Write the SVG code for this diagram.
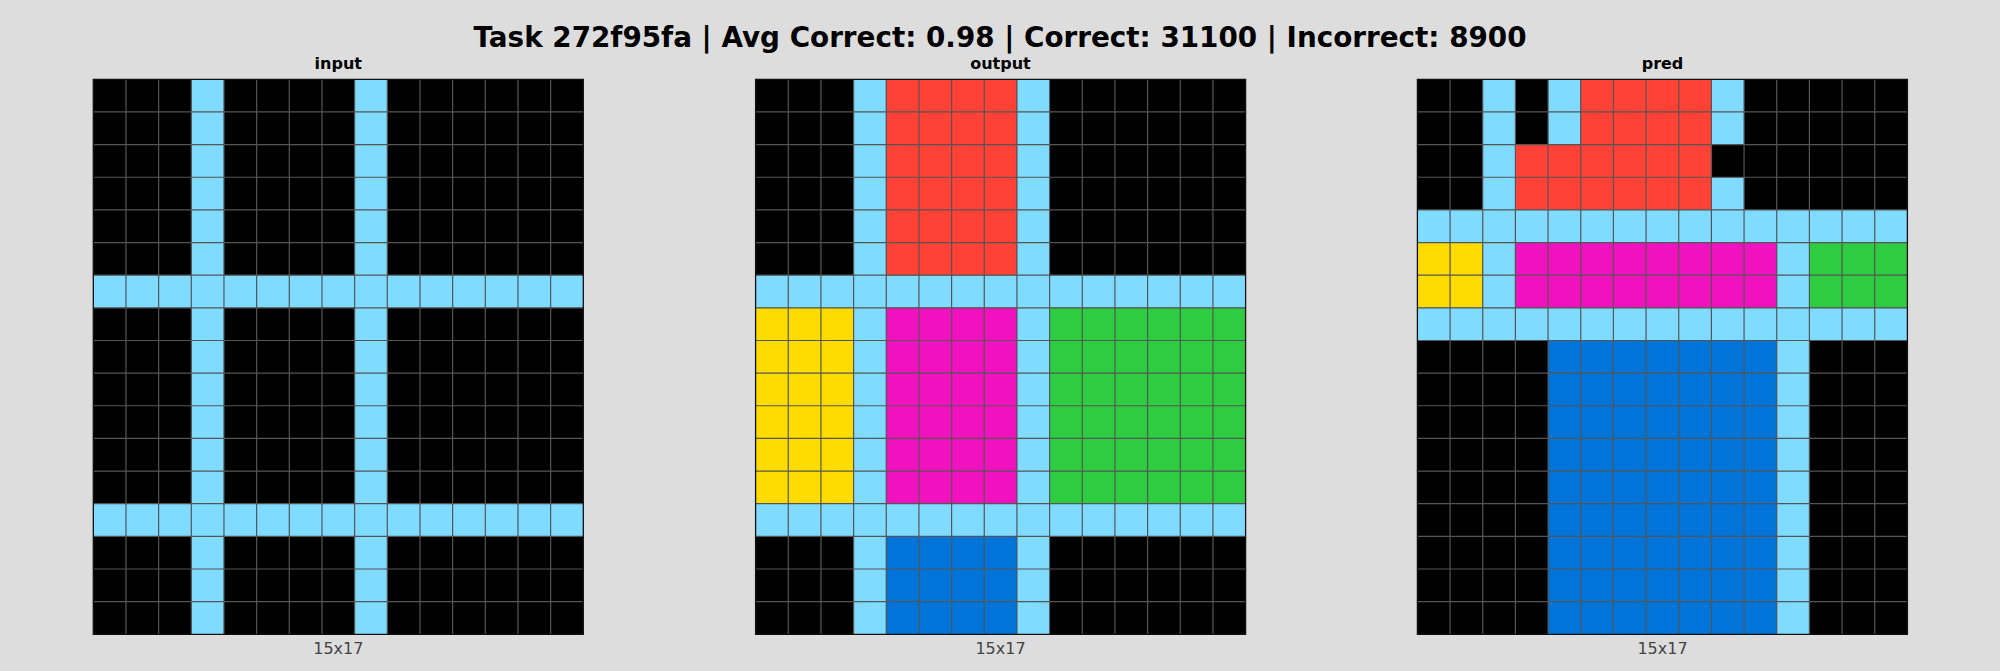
<svg xmlns="http://www.w3.org/2000/svg" xmlns:xlink="http://www.w3.org/1999/xlink" width="2000" height="671" viewBox="0 0 2000 671">
<style>
.title{font-family:"DejaVu Sans","Liberation Sans",sans-serif;font-weight:bold;font-size:27.8px;fill:#000;text-anchor:middle}
.sub{font-family:"DejaVu Sans","Liberation Sans",sans-serif;font-weight:bold;font-size:16px;fill:#000;text-anchor:middle}
.dim{font-family:"DejaVu Sans","Liberation Sans",sans-serif;font-size:16px;fill:#444;text-anchor:middle}
.k{fill:#000000}.c8{fill:#7FDBFF}.c2{fill:#FF4136}.c4{fill:#FFDC00}.c6{fill:#F012BE}.c3{fill:#2ECC40}.c1{fill:#0074D9}
.gl{fill:none;stroke:#555555;stroke-width:1.2;vector-effect:non-scaling-stroke}
.bd{fill:none;stroke:#111111;stroke-width:1.3;vector-effect:non-scaling-stroke}
</style>
<defs>
<g id="lines">
<path class="gl" d="M1 0V17M2 0V17M3 0V17M4 0V17M5 0V17M6 0V17M7 0V17M8 0V17M9 0V17M10 0V17M11 0V17M12 0V17M13 0V17M14 0V17M0 1H15M0 2H15M0 3H15M0 4H15M0 5H15M0 6H15M0 7H15M0 8H15M0 9H15M0 10H15M0 11H15M0 12H15M0 13H15M0 14H15M0 15H15M0 16H15"/>
<rect class="bd" x="0" y="0" width="15" height="17"/>
</g>
</defs>
<rect width="2000" height="671" fill="#DDDDDD"/>
<text class="title" x="1000" y="47">Task 272f95fa | Avg Correct: 0.98 | Correct: 31100 | Incorrect: 8900</text>

<g id="input">
<text class="sub" x="338.3" y="69">input</text>
<g transform="translate(93.3,79.3) scale(32.6667,32.647)">
<rect class="k" x="0" y="0" width="15" height="17"/>
<rect class="c8" x="3" y="0" width="1" height="17"/>
<rect class="c8" x="8" y="0" width="1" height="17"/>
<rect class="c8" x="0" y="6" width="15" height="1"/>
<rect class="c8" x="0" y="13" width="15" height="1"/>
<use xlink:href="#lines"/>
</g>
<text class="dim" x="338.3" y="654">15x17</text>
</g>

<g id="output">
<text class="sub" x="1000.5" y="69">output</text>
<g transform="translate(755.6,79.3) scale(32.6667,32.647)">
<rect class="k" x="0" y="0" width="15" height="17"/>
<rect class="c8" x="3" y="0" width="1" height="17"/>
<rect class="c8" x="8" y="0" width="1" height="17"/>
<rect class="c8" x="0" y="6" width="15" height="1"/>
<rect class="c8" x="0" y="13" width="15" height="1"/>
<rect class="c2" x="4" y="0" width="4" height="6"/>
<rect class="c4" x="0" y="7" width="3" height="6"/>
<rect class="c6" x="4" y="7" width="4" height="6"/>
<rect class="c3" x="9" y="7" width="6" height="6"/>
<rect class="c1" x="4" y="14" width="4" height="3"/>
<use xlink:href="#lines"/>
</g>
<text class="dim" x="1000.5" y="654">15x17</text>
</g>

<g id="pred">
<text class="sub" x="1662.5" y="69">pred</text>
<g transform="translate(1417.4,79.3) scale(32.6667,32.647)">
<rect class="k" x="0" y="0" width="15" height="17"/>
<rect class="c8" x="2" y="0" width="1" height="4"/>
<rect class="c8" x="4" y="0" width="1" height="2"/>
<rect class="c8" x="9" y="0" width="1" height="2"/>
<rect class="c8" x="9" y="3" width="1" height="1"/>
<rect class="c2" x="5" y="0" width="4" height="2"/>
<rect class="c2" x="3" y="2" width="6" height="2"/>
<rect class="c8" x="0" y="4" width="15" height="1"/>
<rect class="c8" x="0" y="7" width="15" height="1"/>
<rect class="c4" x="0" y="5" width="2" height="2"/>
<rect class="c8" x="2" y="5" width="1" height="2"/>
<rect class="c6" x="3" y="5" width="8" height="2"/>
<rect class="c8" x="11" y="5" width="1" height="2"/>
<rect class="c3" x="12" y="5" width="3" height="2"/>
<rect class="c1" x="4" y="8" width="7" height="9"/>
<rect class="c8" x="11" y="8" width="1" height="9"/>
<use xlink:href="#lines"/>
</g>
<text class="dim" x="1662.5" y="654">15x17</text>
</g>
</svg>
